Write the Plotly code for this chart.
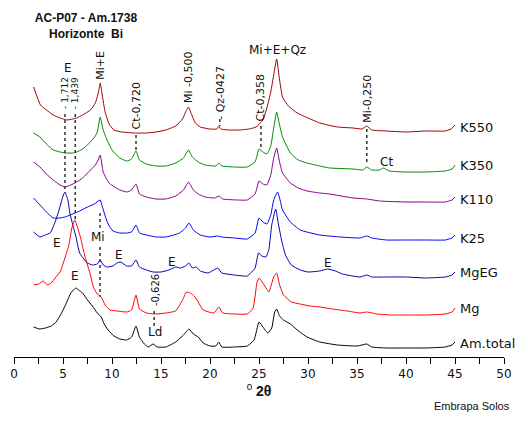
import plotly.graph_objects as go

# ---------------- data (2-theta in degrees, intensity in arbitrary stacked units) ----------------
k550_2t = [2.0, 2.7, 3.3, 4.0, 4.7, 5.4, 6.0, 6.4, 7.0, 7.8, 8.3, 8.6, 8.8, 9.0, 9.3, 9.7, 10.2, 11.0, 12.4, 13.5,
           14.5, 15.5, 16.5, 17.2, 17.6, 17.8, 18.1, 18.5, 19.0, 20.0, 20.7, 20.9, 21.1, 22.0, 23.0, 24.0, 24.7,
           25.4, 25.8, 26.2, 26.5, 26.8, 27.1, 27.4, 28.0, 28.9, 30.0, 31.2, 33.0, 34.6, 35.5, 36.0, 36.5, 38.0,
           40.0, 42.0, 44.0, 44.6, 45.0]
k550_int = [270, 252, 247, 242, 239, 237, 238, 239, 242, 247, 254, 264, 274, 262, 245, 233, 227, 225, 224, 224,
            225, 227, 231, 238, 247, 250, 243, 234, 230, 228, 228, 231, 228, 227, 227, 228, 230,
            237, 249, 265, 282, 298, 277, 260, 251, 244, 239, 234, 230, 229, 228, 231, 227, 226,
            225, 226, 226, 228, 232]

k350_2t = [2.0, 2.65, 3.3, 4.0, 4.7, 5.2, 6.0, 6.4, 7.0, 7.8, 8.3, 8.5, 8.8, 9.1, 9.5, 10.0, 10.8, 11.5, 12.0, 12.45,
           12.8, 13.5, 14.5, 15.5, 16.5, 17.3, 17.8, 18.2, 18.8, 19.5, 20.6, 20.9, 21.2, 22.5, 23.8, 24.6, 25.0,
           25.4, 25.8, 26.2, 26.5, 26.8, 27.1, 27.4, 28.2, 29.0, 29.9, 31.2, 32.2, 34.6, 35.6, 36.0, 36.5, 37.3,
           37.7, 38.3, 40.0, 42.0, 44.0, 44.7, 45.0]
k350_int = [224, 220, 213, 207, 205, 204, 204, 205, 208, 215, 221, 225, 240, 227, 217, 207, 199, 196, 198, 206,
            197, 193, 191, 191, 194, 199, 207, 200, 195, 192, 191, 194, 191, 190, 190, 195, 208,
            205, 203, 211, 229, 245, 232, 220, 204, 197, 194, 191, 189, 188, 187, 190, 187, 187,
            189, 186, 185, 185, 186, 188, 192]

k110_2t = [2.0, 2.65, 3.3, 4.0, 4.7, 5.2, 5.8, 6.4, 7.0, 7.8, 8.3, 8.6, 8.8, 9.1, 9.5, 9.8, 10.8, 11.5, 12.0, 12.45,
           12.8, 13.5, 14.5, 15.5, 16.5, 17.3, 17.8, 18.3, 18.8, 19.5, 20.5, 20.9, 21.3, 22.8, 23.8, 24.6, 25.0,
           25.4, 25.8, 26.2, 26.5, 26.8, 27.1, 27.4, 28.2, 29.0, 29.9, 31.2, 32.2, 34.6, 36.0, 37.3, 40.0, 42.0,
           44.0, 44.7, 45.0]
k110_int = [195, 190, 183, 177, 172, 170, 172, 175, 179, 187, 192, 197, 202, 185, 177, 173, 167, 165, 167, 173,
            163, 160, 158, 158, 161, 167, 175, 167, 163, 160, 159, 161, 158, 157, 157, 163, 176,
            173, 172, 182, 199, 209, 195, 184, 174, 169, 166, 164, 163, 159, 158, 156, 155, 155,
            155, 157, 160]

k25_2t = [2.0, 2.65, 3.3, 4.0, 4.7, 5.2, 6.0, 6.7, 7.5, 8.2, 8.78, 9.0, 9.3, 9.6, 10.1, 10.8, 11.5, 12.0, 12.45,
          12.8, 13.5, 14.5, 15.5, 16.3, 16.9, 17.5, 17.85, 18.3, 19.0, 20.0, 20.8, 21.2, 22.5, 23.8, 24.6, 25.0,
          25.4, 25.8, 26.2, 26.5, 26.9, 27.2, 27.4, 28.2, 29.2, 31.2, 33.3, 35.3, 36.0, 36.5, 38.0, 40.0, 42.0,
          44.0, 44.7, 45.0]
k25_int = [159, 152, 145, 139, 139, 140, 143, 146, 150, 153, 157, 151, 141, 133, 126, 124, 124, 125, 132,
           124, 122, 120, 120, 122, 124, 129, 134, 127, 122, 120, 121, 120, 119, 118, 124, 139,
           135, 133, 142, 157, 165, 155, 147, 135, 127, 122, 120, 119, 121, 119, 117, 117, 117,
           117, 119, 122]

mgeg_2t = [2.0, 2.65, 3.2, 3.7, 4.2, 4.6, 5.0, 5.2, 5.5, 5.7, 6.0, 6.3, 6.7, 7.2, 7.5, 8.0, 8.5, 8.8, 9.1, 9.5,
           10.1, 10.5, 10.9, 11.5, 12.0, 12.45, 12.8, 13.5, 14.2, 15.0, 15.8, 16.5, 17.0, 17.5, 17.85, 18.2,
           18.6, 19.0, 19.8, 20.8, 21.2, 22.5, 23.8, 24.6, 24.95, 25.3, 25.7, 26.0, 26.3, 26.7, 27.0, 27.3,
           27.7, 28.3, 29.2, 30.0, 31.2, 32.0, 32.8, 33.5, 35.3, 36.0, 36.5, 38.0, 40.0, 42.0, 44.0, 44.7, 45.0]
mgeg_int = [125, 120, 122, 124, 135, 147, 161, 165, 157, 144, 132, 121, 104, 97, 94, 92, 93, 97, 92, 90,
            91, 94, 95, 91, 91, 97, 90, 87, 85, 85, 87, 90, 89, 91, 94, 89,
            90, 86, 84, 89, 84, 82, 81, 89, 104, 101, 100, 107, 132, 148, 132, 117,
            102, 92, 87, 85, 86, 88, 86, 83, 80, 82, 80, 80, 80, 79, 80, 82, 85]

mg_2t = [2.0, 2.5, 3.0, 3.4, 3.8, 4.2, 4.7, 5.2, 5.6, 5.9, 6.2, 6.5, 6.8, 7.2, 7.8, 8.1, 8.5, 8.9, 9.3, 9.8,
         10.5, 11.5, 12.0, 12.45, 12.8, 13.5, 14.5, 15.5, 16.5, 17.2, 17.6, 18.0, 18.4, 18.8, 19.3, 20.4,
         20.9, 21.3, 22.5, 23.8, 24.4, 24.8, 25.0, 25.4, 26.0, 26.5, 26.8, 27.1, 27.5, 28.3, 29.2, 30.2,
         31.2, 32.5, 34.0, 35.3, 36.0, 37.0, 38.5, 40.0, 42.0, 44.0, 44.7, 45.0]
mg_int = [72, 73, 76, 72, 74, 79, 85, 99, 112, 129, 137, 129, 119, 102, 82, 70, 63, 60, 52, 47,
          46, 45, 47, 62, 48, 44, 43, 44, 46, 57, 65, 64, 61, 55, 47, 44,
          50, 44, 43, 43, 49, 75, 79, 74, 65, 80, 84, 72, 62, 55, 53, 51,
          50, 48, 46, 44, 45, 43, 42, 42, 42, 43, 45, 49]

amt_2t = [2.0, 2.6, 3.2, 3.8, 4.3, 4.8, 5.3, 5.8, 6.3, 6.6, 7.0, 7.5, 8.0, 8.5, 8.9, 9.2, 9.6, 10.2, 10.8, 11.5,
          12.0, 12.45, 12.8, 13.3, 13.7, 14.2, 14.6, 15.5, 16.5, 17.3, 17.85, 18.3, 18.8, 19.3, 20.0, 20.6,
          20.9, 21.2, 22.5, 23.8, 24.5, 25.0, 25.4, 25.9, 26.3, 26.6, 26.8, 27.1, 27.5, 28.2, 28.9, 29.9,
          31.2, 33.0, 35.0, 35.5, 36.0, 36.5, 38.0, 40.0, 42.0, 44.0, 44.7, 45.0]
amt_int = [30, 28, 29, 31, 35, 43, 53, 64, 69, 67, 64, 57, 51, 44, 40, 33, 27, 21, 18, 17,
           20, 31, 20, 13, 10, 13, 10, 10, 15, 22, 28, 23, 20, 14, 11, 11,
           15, 10, 10, 11, 17, 35, 30, 24, 29, 45, 48, 41, 37, 33, 27, 20,
           15, 12, 11, 12, 13, 10, 9, 9, 9, 10, 12, 15]

series_names = ["K550", "K350", "K110", "K25", "MgEG", "Mg", "Am.total"]
series_x = [k550_2t, k350_2t, k110_2t, k25_2t, mgeg_2t, mg_2t, amt_2t]
series_y = [k550_int, k350_int, k110_int, k25_int, mgeg_int, mg_int, amt_int]
series_colors = ["#A00000", "#008A00", "#8A008A", "#0000FF", "#0000B4", "#FF0000", "#000000"]
label_levels = [230, 192, 158, 119, 85, 49, 14]

x_ticks = [0, 5, 10, 15, 20, 25, 30, 35, 40, 45, 50]

FONT = "DejaVu Sans"
ARIAL = "Liberation Sans, Arial"
Y_TOP = 357  # y-axis span (one unit per pixel of plot height)

fig = go.Figure()
for nm, xs, ys, col in zip(series_names, series_x, series_y, series_colors):
    fig.add_trace(go.Scatter(x=xs, y=ys, mode="lines", name=nm,
                             line=dict(color=col, width=1, shape="spline", smoothing=0.4),
                             hoverinfo="skip", showlegend=False))

ann = []
# series labels at right end
for nm, lv in zip(series_names, label_levels):
    ann.append(dict(x=45.3, y=lv, text=nm, showarrow=False, xanchor="left", yanchor="middle",
                    font=dict(family=FONT, size=13, color="#111")))

# rotated peak labels: (text, 2theta, bottom level, size)
rot_labels = [("Mi+E", 8.8, 275, 11), ("- 1,712", 5.2, 246, 9), ("- 1,439", 6.25, 246, 9),
              ("Ct-0,720", 12.45, 225, 11), ("Mi -0,500", 17.75, 252, 11), ("- Qz-0427", 21.0, 235, 11),
              ("Ct-0,358", 25.2, 234, 11), ("Mi-0,250", 36.0, 232, 11), ("-0,626", 14.4, 49, 10)]
for t, xv, yv, sz in rot_labels:
    ann.append(dict(x=xv, y=yv, text=t, textangle=-90, showarrow=False, xanchor="center", yanchor="bottom",
                    font=dict(family=FONT, size=sz, color="#111")))

# horizontal mineral labels
h_labels = [("E", 5.5, 289), ("Mi+E+Qz", 26.9, 307), ("Ct", 38.0, 195), ("E", 4.4, 114), ("Mi", 8.6, 120),
            ("E", 10.7, 102), ("E", 16.1, 95), ("E", 32.0, 94), ("E", 6.2, 81), ("Ld", 14.4, 25)]
for t, xv, yv in h_labels:
    ann.append(dict(x=xv, y=yv, text=t, showarrow=False, xanchor="center", yanchor="middle",
                    font=dict(family=FONT, size=12, color="#111")))

# credit line
ann.append(dict(x=1.016, xref="paper", y=-49 / Y_TOP, yref="paper", text="Embrapa Solos", showarrow=False,
                xanchor="right", yanchor="middle", font=dict(family=ARIAL, size=11, color="#111")))

# dotted reference lines: (2theta, from level, to level)
dotted = [(5.2, 243, 166), (6.25, 243, 137), (8.78, 110, 60), (8.78, 144, 126), (12.45, 222, 205),
          (21.0, 238, 231), (25.2, 231, 207), (36.0, 228, 192), (14.3, 46, 31)]
shapes = []
for xv, y0, y1 in dotted:
    shapes.append(dict(type="line", xref="x", yref="y", x0=xv, x1=xv, y0=y0, y1=y1,
                       line=dict(color="#333", width=1.5, dash="dot")))

fig.update_layout(
    width=528, height=424,
    margin=dict(l=14, r=24, t=0, b=67),
    paper_bgcolor="white", plot_bgcolor="white",
    annotations=ann, shapes=shapes,
    font=dict(family=FONT, color="#111"),
    title=dict(text="<b>AC-P07 - Am.1738<br>Horizonte  Bi</b>", x=86 / 528, xanchor="center",
               xref="container", y=1 - 22 / 424, yanchor="middle", yref="container",
               font=dict(family=ARIAL, size=12, color="#111")),
    xaxis=dict(range=[0, 50], tickvals=x_ticks, ticktext=[str(v) for v in x_ticks],
               showline=True, linecolor="black", linewidth=1, ticks="outside", ticklen=6,
               tickcolor="black", tickwidth=1, showgrid=False, zeroline=False,
               tickfont=dict(family=FONT, size=12, color="#111"),
               title=dict(text="<sup>0</sup> <b>2θ</b>", standoff=2,
                          font=dict(family=ARIAL, size=14, color="#111")),
               automargin=False,
               minor=dict(dtick=2.5, tick0=0, ticks="outside", ticklen=6, tickcolor="black", tickwidth=1,
                          showgrid=False)),
    yaxis=dict(range=[0, Y_TOP], visible=False, showgrid=False, zeroline=False),
)

fig.write_html("out.html", config={"displayModeBar": False},
               post_script="document.body.style.margin='0';")
